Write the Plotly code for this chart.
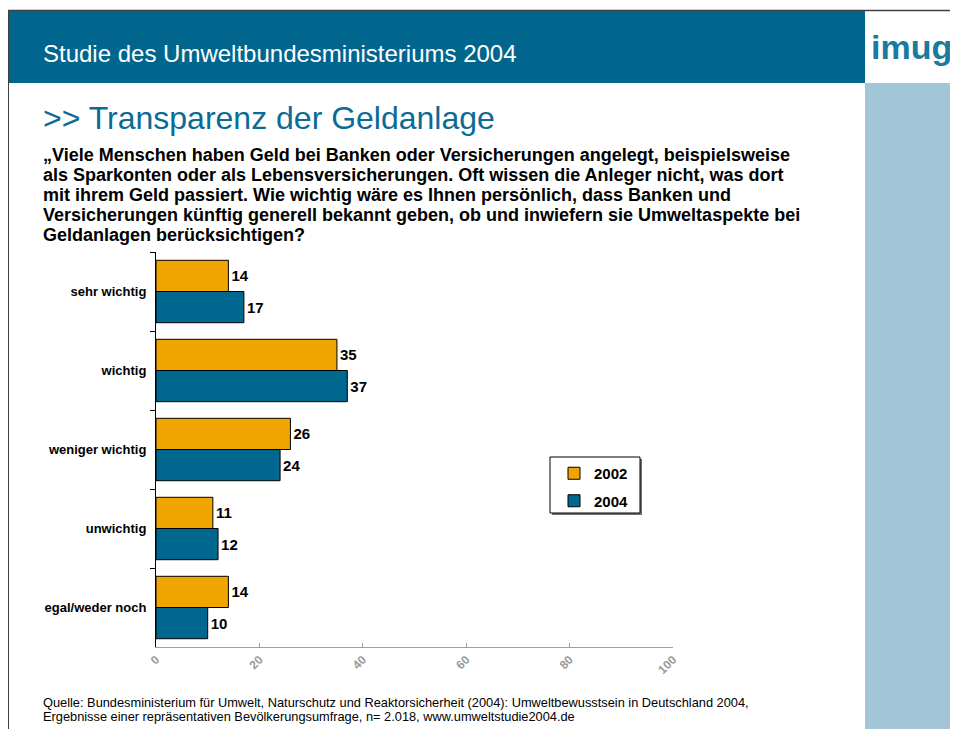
import plotly.graph_objects as go

categories = ["sehr wichtig", "wichtig", "weniger wichtig", "unwichtig", "egal/weder noch"]
values_2002 = [14, 35, 26, 11, 14]
values_2004 = [17, 37, 24, 12, 10]
x_ticks = [0, 20, 40, 60, 80, 100]

question_lines = [
    "„Viele Menschen haben Geld bei Banken oder Versicherungen angelegt, beispielsweise",
    "als Sparkonten oder als Lebensversicherungen. Oft wissen die Anleger nicht, was dort",
    "mit ihrem Geld passiert. Wie wichtig wäre es Ihnen persönlich, dass Banken und",
    "Versicherungen künftig generell bekannt geben, ob und inwiefern sie Umweltaspekte bei",
    "Geldanlagen berücksichtigen?",
]
source_lines = [
    "Quelle: Bundesministerium für Umwelt, Naturschutz und Reaktorsicherheit (2004): Umweltbewusstsein in Deutschland 2004,",
    "Ergebnisse einer repräsentativen Bevölkerungsumfrage, n= 2.018, www.umweltstudie2004.de",
]

# page offset (browser body margin)
OFF = 8
W, H = 958 - OFF, 729 - OFF
L, R, T, B = 156, 673, 252, 647  # plot area in screen pixels
FONT = "Arial, Liberation Sans, sans-serif"
ORANGE = "#f0a500"
BLUE = "#00688f"


def px(x):
    return (x - L) / (R - L)


def py(y):
    return (B - y) / (B - T)


fig = go.Figure()
for name, vals, col in [("2002", values_2002, ORANGE), ("2004", values_2004, BLUE)]:
    fig.add_trace(go.Bar(
        y=categories, x=vals, name=name, orientation="h", legendgroup=name,
        marker=dict(color=col, line=dict(color="#000000", width=1)),
        text=vals, textposition="outside", cliponaxis=False, constraintext="none",
        textfont=dict(family=FONT, size=15, color="#000000", weight="bold"),
    ))

shapes = [
    dict(type="rect", xref="paper", yref="paper", x0=px(5), x1=px(865), y0=py(83), y1=py(11),
         fillcolor="#00668d", line=dict(width=0), layer="below"),
    dict(type="rect", xref="paper", yref="paper", x0=px(865), x1=px(960), y0=py(731), y1=py(83),
         fillcolor="#a2c5d7", line=dict(width=0), layer="below"),
    dict(type="line", xref="paper", yref="paper", x0=px(0), x1=px(960), y0=py(10.5), y1=py(10.5),
         line=dict(color="#404040", width=1.5)),
    dict(type="line", xref="paper", yref="paper", x0=px(8.5), x1=px(8.5), y0=py(10), y1=py(731),
         line=dict(color="#404040", width=1)),
    # legend frame with shadow
    dict(type="rect", xref="paper", yref="paper", x0=px(552), x1=px(642), y0=py(515), y1=py(459),
         fillcolor="#707070", line=dict(width=0), layer="below"),
    dict(type="rect", xref="paper", yref="paper", x0=px(550), x1=px(640), y0=py(513), y1=py(457),
         fillcolor="#ffffff", line=dict(color="#000000", width=1), layer="below"),
]

annotations = [
    dict(text="Studie des Umweltbundesministeriums 2004", x=px(41), y=py(53), xref="paper", yref="paper",
         xanchor="left", yanchor="middle", showarrow=False,
         font=dict(family=FONT, size=24, color="#ffffff")),
    dict(text="imug", x=px(869), y=py(47), xref="paper", yref="paper",
         xanchor="left", yanchor="middle", showarrow=False,
         font=dict(family=FONT, size=34, color="#1a7b9e", weight="bold")),
    dict(text=">> Transparenz der Geldanlage", x=px(41), y=py(118), xref="paper", yref="paper",
         xanchor="left", yanchor="middle", showarrow=False,
         font=dict(family=FONT, size=32, color="#0a6b95")),
]
for i, line in enumerate(question_lines):
    annotations.append(dict(text=line, x=px(41), y=py(155 + 20 * i), xref="paper", yref="paper",
                            xanchor="left", yanchor="middle", showarrow=False,
                            font=dict(family=FONT, size=18, color="#000000", weight="bold")))
for i, line in enumerate(source_lines):
    annotations.append(dict(text=line, x=px(41), y=py(702 + 14 * i), xref="paper", yref="paper",
                            xanchor="left", yanchor="middle", showarrow=False,
                            font=dict(family=FONT, size=12.8, color="#000000")))

fig.update_layout(
    width=W, height=H,
    margin=dict(l=L - OFF, r=W - (R - OFF), t=T - OFF, b=H - (B - OFF), pad=0, autoexpand=False),
    paper_bgcolor="#ffffff", plot_bgcolor="#ffffff",
    barmode="group", bargap=0.21, bargroupgap=0,
    font=dict(family=FONT),
    shapes=shapes, annotations=annotations,
    showlegend=True,
    legend=dict(x=px(554), y=py(457), xanchor="left", yanchor="top",
                bgcolor="rgba(0,0,0,0)", borderwidth=0,
                traceorder="grouped", tracegroupgap=5,
                font=dict(family=FONT, size=15, color="#000000", weight="bold"),
                itemwidth=30),
    xaxis=dict(range=[0, 100], tickvals=x_ticks, ticktext=[str(v) for v in x_ticks],
               tickangle=-45, showgrid=False, zeroline=False,
               showline=True, linecolor="#a0a0a0", linewidth=1,
               ticks="inside", ticklen=4, tickcolor="#a0a0a0",
               tickfont=dict(family=FONT, size=12, color="#9a9a9a", weight="bold")),
    yaxis=dict(autorange="reversed", categoryorder="array", categoryarray=categories,
               showline=True, linecolor="#000000", linewidth=1,
               ticks="outside", ticklen=5, tickcolor="#000000", tickson="boundaries",
               showgrid=False, ticklabelstandoff=6,
               tickfont=dict(family=FONT, size=13, color="#000000", weight="bold")),
)

fig.write_html("out.html")
